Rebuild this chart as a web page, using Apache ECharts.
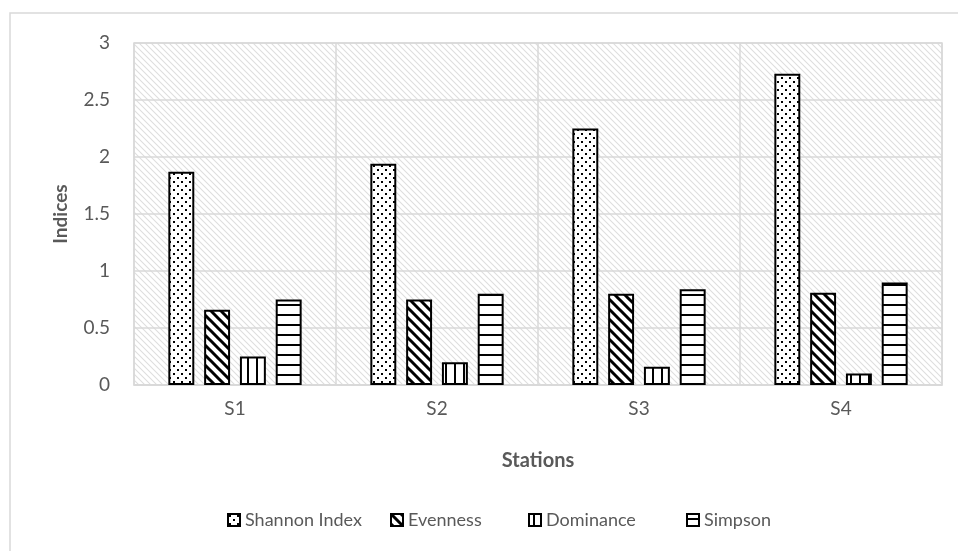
<!DOCTYPE html>
<html>
<head>
<meta charset="utf-8">
<script src="https://cdn.jsdelivr.net/npm/echarts@6/dist/echarts.min.js"></script>
<style>
  html, body { margin: 0; padding: 0; background: #fff; }
  #chart { width: 958px; height: 551px; }
</style>
</head>
<body>
<div id="chart"></div>
<script>
const stations = ['S1', 'S2', 'S3', 'S4']
const seriesNames = ['Shannon Index', 'Evenness', 'Dominance', 'Simpson']
const shannon = [1.87, 1.94, 2.25, 2.73]
const evenness = [0.66, 0.75, 0.80, 0.81]
const dominance = [0.25, 0.20, 0.16, 0.10]
const simpson = [0.75, 0.80, 0.84, 0.90]
const yTicks = [0, 0.5, 1, 1.5, 2, 2.5, 3]

// small canvas patterns, drawn once
function makePattern (w, h, draw) {
  const c = document.createElement('canvas')
  c.width = w
  c.height = h
  const ctx = c.getContext('2d')
  ctx.fillStyle = '#fff'
  ctx.fillRect(0, 0, w, h)
  draw(ctx)
  return { image: c, repeat: 'repeat' }
}

const dots = makePattern(8, 8, function (ctx) {
  ctx.fillStyle = '#000'
  ctx.fillRect(1, 1, 2, 2)
  ctx.fillRect(5, 5, 2, 2)
})
const diag = makePattern(10, 10, function (ctx) {
  ctx.strokeStyle = '#000'
  ctx.lineWidth = 3
  ctx.beginPath()
  ctx.moveTo(-2, -2); ctx.lineTo(12, 12)
  ctx.moveTo(-2, 8); ctx.lineTo(2, 12)
  ctx.moveTo(8, -2); ctx.lineTo(12, 2)
  ctx.stroke()
})
const vert = makePattern(9, 9, function (ctx) {
  ctx.fillStyle = '#000'
  ctx.fillRect(4, 0, 2, 9)
})
const horiz = makePattern(10, 10, function (ctx) {
  ctx.fillStyle = '#000'
  ctx.fillRect(0, 4, 10, 2)
})
const hatch = makePattern(6, 6, function (ctx) {
  ctx.strokeStyle = '#dedede'
  ctx.lineWidth = 1.1
  ctx.beginPath()
  ctx.moveTo(-1, -1); ctx.lineTo(7, 7)
  ctx.moveTo(-1, 5); ctx.lineTo(1, 7)
  ctx.moveTo(5, -1); ctx.lineTo(7, 1)
  ctx.stroke()
})

const textColor = '#595959'
const font = 'Lato'
// the original legend has loose spacing, so each entry gets its own slot
const legendLefts = [222, 385, 523, 681]

function barSeries (name, data, fill) {
  return {
    name: name,
    type: 'bar',
    data: data,
    barGap: '38%',
    barCategoryGap: '34%',
    itemStyle: { color: fill, borderColor: '#000', borderWidth: 2 }
  }
}

const chart = echarts.init(document.getElementById('chart'))
chart.setOption({
  animation: false,
  textStyle: { fontFamily: font },
  graphic: [{
    type: 'rect',
    shape: { x: 10, y: 13, width: 1200, height: 800 },
    style: { fill: 'none', stroke: '#d9d9d9', lineWidth: 1.5 },
    silent: true,
    z: -10
  }],
  grid: {
    left: 134, right: 16, top: 43, bottom: 166,
    show: true,
    backgroundColor: hatch,
    borderColor: '#d9d9d9',
    borderWidth: 1.5
  },
  legend: seriesNames.map(function (n, i) {
    return {
      bottom: 17,
      left: legendLefts[i],
      icon: 'rect',
      itemWidth: 12,
      itemHeight: 12,
      textStyle: { color: textColor, fontSize: 18, fontFamily: font },
      data: [n]
    }
  }),
  xAxis: {
    type: 'category',
    data: stations,
    name: 'Stations',
    nameLocation: 'middle',
    nameGap: 66,
    nameTextStyle: { color: textColor, fontSize: 20, fontWeight: 'bold', fontFamily: font },
    axisLine: { show: true, lineStyle: { color: '#d9d9d9', width: 1.5 } },
    axisTick: { show: false },
    axisLabel: { color: textColor, fontSize: 19, margin: 14 },
    splitLine: { show: true, lineStyle: { color: '#d9d9d9', width: 1.5 } }
  },
  yAxis: {
    type: 'value',
    min: yTicks[0],
    max: yTicks[yTicks.length - 1],
    interval: 0.5,
    name: 'Indices',
    nameLocation: 'middle',
    nameGap: 64,
    nameTextStyle: { color: textColor, fontSize: 19, fontWeight: 'bold', fontFamily: font },
    axisLine: { show: false },
    axisTick: { show: false },
    axisLabel: { color: textColor, fontSize: 19, margin: 24 },
    splitLine: { show: true, lineStyle: { color: '#d9d9d9', width: 1.5 } }
  },
  series: [
    barSeries(seriesNames[0], shannon, dots),
    barSeries(seriesNames[1], evenness, diag),
    barSeries(seriesNames[2], dominance, vert),
    barSeries(seriesNames[3], simpson, horiz)
  ]
})
</script>
</body>
</html>
